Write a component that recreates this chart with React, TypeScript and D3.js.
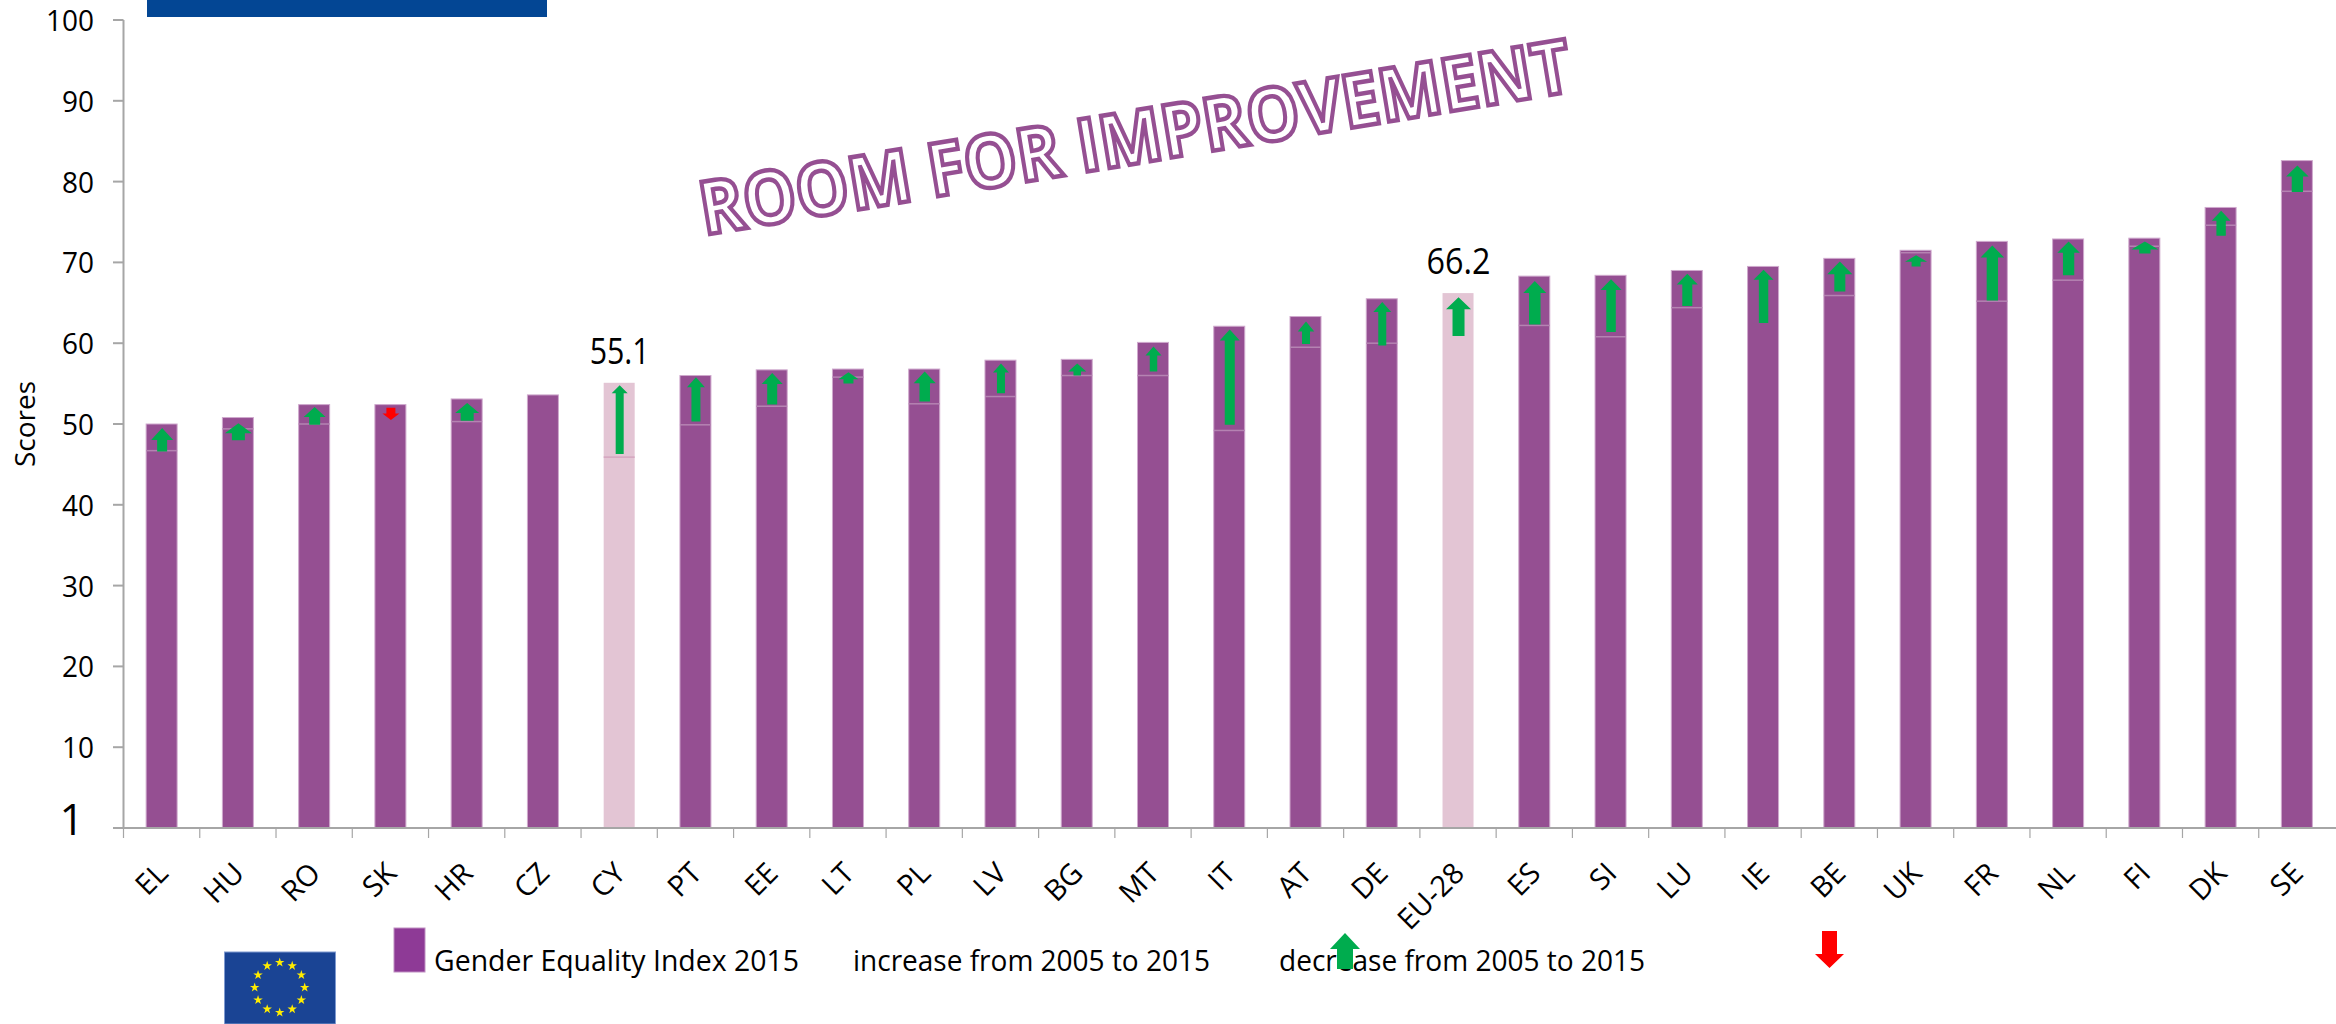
import React from "react";
import * as d3 from "d3";

const categories = ["EL","HU","RO","SK","HR","CZ","CY","PT","EE","LT","PL","LV","BG","MT","IT","AT","DE","EU-28","ES","SI","LU","IE","BE","UK","FR","NL","FI","DK","SE"];
const index2015 = [50.0,50.8,52.4,52.4,53.1,53.6,55.1,56.0,56.7,56.8,56.8,57.9,58.0,60.1,62.1,63.3,65.5,66.2,68.3,68.4,69.0,69.5,70.5,71.5,72.6,72.9,73.0,76.8,82.6];
const index2005: (number | null)[] = [46.7,49.4,50.0,null,50.3,null,45.9,49.9,52.2,55.8,52.5,53.4,56.0,56.0,49.2,59.5,60.0,null,62.2,60.8,64.4,null,65.9,71.2,65.2,67.8,72.0,74.6,78.8];
const arrowStart: (number | null)[] = [46.6,48.0,49.9,52.0,50.4,null,46.3,50.3,52.4,55.0,52.8,53.8,56.0,56.5,49.9,59.9,59.7,60.9,62.3,61.4,64.6,62.5,66.4,69.5,65.3,68.4,71.1,73.3,78.7];
const arrowEnd: (number | null)[] = [49.5,50.1,52.1,50.5,52.6,null,54.8,55.8,56.3,56.4,56.5,57.5,57.5,59.6,61.7,62.7,65.1,65.7,67.7,67.9,68.6,69.1,70.1,70.9,72.1,72.6,72.6,76.4,82.0];
const arrowHeadWidth = [22,27,22,17,24,0,16,18,21,20,22,16,18,16,20,16.5,18,25,23,21,21,20,25,22,23.5,22.5,27,18.8,22.5];
const arrowShaftWidth = [10,13,11,9,13,0,8,9,10,10,10.5,8,7.5,7.5,10,8,8,12,11.5,9.5,10,9.4,11,9,11.3,11.3,11.3,9.4,11.3];
const arrowHeadLength = [12,10,10,6.5,10,0,8,10,11,7,11.7,9,8,9,11,10,10,12,12,10.7,10.7,10,12.7,6.7,12,11.3,8,10,11];
const highlighted = ["CY","EU-28"];
const labelled = ["CY","EU-28"];
const yTicks = [0,10,20,30,40,50,60,70,80,90,100];
const legendLabels = ["Gender Equality Index 2015","increase from 2005 to 2015","decrease from 2005 to 2015"];

const FONT = "'Open Sans', sans-serif";
const PURPLE = "#954F92";
const PALE = "#E3C5D4";
const GREEN = "#00AC4E";
const RED = "#FF0000";
const AXIS = "#A6A6A6";

const x = d3.scaleBand<string>().domain(categories).range([123.5, 2335]).paddingInner(0.5935).paddingOuter(0.29675);
const y = d3.scaleLinear().domain([0, 100]).range([828, 20]);

function arrowPath(cx: number, tip: number, tail: number, hw: number, sw: number, hl: number) {
  const dir = tail > tip ? 1 : -1;
  const p = d3.path();
  p.moveTo(cx, tip);
  p.lineTo(cx + hw / 2, tip + dir * hl);
  p.lineTo(cx + sw / 2, tip + dir * hl);
  p.lineTo(cx + sw / 2, tail);
  p.lineTo(cx - sw / 2, tail);
  p.lineTo(cx - sw / 2, tip + dir * hl);
  p.lineTo(cx - hw / 2, tip + dir * hl);
  p.closePath();
  return p.toString();
}

const star = d3.symbol().type(d3.symbolStar).size(28)();

export default function App() {
  const step = x.step();
  const inner = step * x.paddingInner();
  return (
    <svg width={2336} height={1024} viewBox="0 0 2336 1024" style={{ position: "absolute", left: 0, top: 0, display: "block", background: "#fff" }} fontFamily={FONT}>
      <rect x={147} y={0} width={400} height={17} fill="#034694" />

      {/* y axis */}
      <line x1={x.range()[0]} x2={x.range()[0]} y1={y(100)} y2={y(0)} stroke={AXIS} strokeWidth={2} />
      {yTicks.map((t) => (
        <g key={t}>
          <line x1={113} x2={123.5} y1={y(t)} y2={y(t)} stroke={AXIS} strokeWidth={2} />
          {t === 0 ? (
            <text x={84} y={y(t) + 7} textAnchor="end" fontSize={43} fill="#000">1</text>
          ) : (
            <text x={94} y={y(t) + 11} textAnchor="end" fontSize={30} fill="#000" textLength={t === 100 ? 48 : 32} lengthAdjust="spacingAndGlyphs">{t}</text>
          )}
        </g>
      ))}
      <text transform="translate(35,424) rotate(-90)" textAnchor="middle" fontSize={28} fill="#000">Scores</text>

      {/* bars */}
      {categories.map((c, i) => {
        const bx = x(c)!;
        const bw = x.bandwidth();
        const hi = highlighted.includes(c);
        const base = index2005[i];
        return (
          <g key={c}>
            <rect x={bx} y={y(index2015[i])} width={bw} height={y(0) - y(index2015[i])} fill={hi ? PALE : PURPLE} stroke={hi ? "none" : "#CFA9CD"} strokeWidth={1} />
            {base !== null && (
              <line x1={bx} x2={bx + bw} y1={y(base)} y2={y(base)} stroke={hi ? "#D4A5BE" : "#B583B2"} strokeWidth={1.5} />
            )}
          </g>
        );
      })}

      {/* x axis */}
      <line x1={113} x2={2336} y1={y(0)} y2={y(0)} stroke={AXIS} strokeWidth={2} />
      {categories.map((c) => {
        const tx = x(c)! - inner / 2;
        return <line key={c} x1={tx} x2={tx} y1={y(0)} y2={y(0) + 10} stroke={AXIS} strokeWidth={1.2} />;
      })}
      {categories.map((c) => {
        const cx = x(c)! + x.bandwidth() / 2;
        return (
          <text key={c} transform={`translate(${cx + 8},875) rotate(-45)`} textAnchor="end" fontSize={29} fill="#000">{c}</text>
        );
      })}

      {/* arrows */}
      {categories.map((c, i) => {
        const a = arrowStart[i];
        const b = arrowEnd[i];
        if (a === null || b === null) return null;
        const cx = x(c)! + x.bandwidth() / 2 + 0.5;
        return (
          <path key={c} d={arrowPath(cx, y(b), y(a), arrowHeadWidth[i], arrowShaftWidth[i], arrowHeadLength[i])} fill={b < a ? RED : GREEN} />
        );
      })}

      {/* value labels */}
      {labelled.map((c) => {
        const i = categories.indexOf(c);
        return (
          <text key={c} x={x(c)! + x.bandwidth() / 2 + 0.5} y={y(index2015[i]) - 19} textAnchor="middle" fontSize={36} fill="#000" textLength={c === "CY" ? 60 : 64} lengthAdjust="spacingAndGlyphs">{index2015[i]}</text>
        );
      })}

      {/* watermark */}
      <text transform="translate(704,235) rotate(-9.4)" fontSize={74} fontWeight={700} fill="#fff" stroke={PURPLE} strokeWidth={4.5} textLength={882} lengthAdjust="spacingAndGlyphs">ROOM FOR IMPROVEMENT</text>

      {/* legend */}
      <rect x={394} y={928} width={31} height={44} fill="#8E3A96" stroke="#BF8FC2" strokeWidth={1} />
      <text x={434} y={971} fontSize={30} fill="#000" textLength={365} lengthAdjust="spacingAndGlyphs">{legendLabels[0]}</text>
      <text x={853} y={971} fontSize={30} fill="#000" textLength={357} lengthAdjust="spacingAndGlyphs">{legendLabels[1]}</text>
      <text x={1279} y={971} fontSize={30} fill="#000" textLength={366} lengthAdjust="spacingAndGlyphs">{legendLabels[2]}</text>
      <path d={arrowPath(1345, 933, 969, 30, 16, 16)} fill={GREEN} />
      <path d={arrowPath(1829.5, 968, 931, 29, 15, 14)} fill={RED} />

      {/* flag */}
      <rect x={224.5} y={952} width={111} height={72} fill="#1A4494" stroke="#7F9AD0" strokeWidth={1} />
      {d3.range(12).map((k) => {
        const ang = (k / 12) * 2 * Math.PI;
        return (
          <path key={k} d={star!} transform={`translate(${279.7 + 25 * Math.sin(ang)},${987.5 - 25 * Math.cos(ang)})`} fill="#FFED00" />
        );
      })}
    </svg>
  );
}
